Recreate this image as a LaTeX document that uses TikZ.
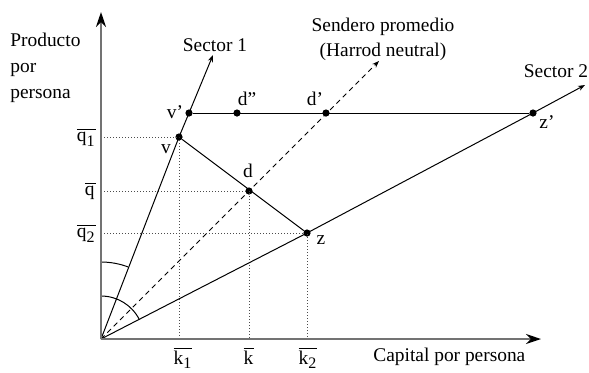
\documentclass[tikz,border=0pt]{standalone}
\usepackage{fontspec}
\setmainfont{Liberation Serif}
\usepackage{tikz}
\usetikzlibrary{calc,arrows.meta,positioning}
\tikzset{
  axs/.style={-{Stealth[length=7.5pt,width=5pt,color=black]},line width=1pt,black!55},
  sar/.style={-{Stealth[length=3.5pt,width=2.6pt]},line width=0.5pt},
  dsh/.style={line width=0.5pt,dash pattern=on 2.5pt off 2pt},
  prj/.style={line width=0.5pt,black!70,dash pattern=on 0.6pt off 0.9pt},
  nd/.style={circle,fill,inner sep=0pt,minimum size=3.6pt},
  lb/.style={inner sep=0pt,font=\fontsize{9.7pt}{11.6pt}\selectfont}
}
\newcommand{\bv}[2]{$\overline{\mbox{#1}_{\mbox{\fontsize{8pt}{9pt}\selectfont #2}}}$}
\begin{document}
\begin{tikzpicture}[x=0.5pt,y=-0.5pt]
\useasboundingbox (0,0) rectangle (589,372);
\coordinate (O) at (101,339);
\coordinate (ytip) at (101,12);
\coordinate (xtip) at (541,339);
\coordinate (s1tip) at (213,55);
\coordinate (s2tip) at (585,85);
\coordinate (htip) at (379,61);
\node[nd] (v) at (179,137) {};
\node[nd] (vp) at (189,113) {};
\node[nd] (dpp) at (237,113) {};
\node[nd] (dp) at (326,113) {};
\node[nd] (zp) at (533,113) {};
\node[nd] (d) at (249,191) {};
\node[nd] (z) at (307,233) {};
% proyecciones
\coordinate (q1) at (O |- v);
\coordinate (q) at (O |- d);
\coordinate (q2) at (O |- z);
\draw[prj] (q1) -- (v.center) -- (v |- O);
\draw[prj] (q) -- (d.center) -- (d |- O);
\draw[prj] (q2) -- (z.center) -- (z |- O);
% rectas
\draw[dsh,-{Stealth[length=3.5pt,width=2.6pt]}] (O) -- (htip);
\draw[sar] (O) -- (v.center) -- (vp.center) -- (s1tip);
\draw[sar] (O) -- (z.center) -- (zp.center) -- (s2tip);
\draw[line width=0.5pt] (vp) -- (zp);
\draw[line width=0.5pt] (v) -- (z);
% angulos
\draw[line width=0.5pt] (101,262) arc[start angle=270,end angle=290.6,radius=77];
\draw[line width=0.5pt] (101,296) arc[start angle=270,end angle=332.9,radius=43];
% ejes
\draw[axs] (O) -- (ytip);
\draw[axs] (O) -- (xtip);
% textos
\node[lb,anchor=east] (lq1) at (96,137) {\bv{q}{1}};
\node[lb,anchor=east] (lq) at (96,191) {\bv{q}{}};
\node[lb,anchor=east] (lq2) at (96,233) {\bv{q}{2}};
\node[lb,anchor=north] (lk1) at (183,347) {\bv{k}{1}};
\node[lb,anchor=north] (lk) at (249,347) {\bv{k}{}};
\node[lb,anchor=north] (lk2) at (308,347) {\bv{k}{2}};
\node[lb] (lv) at (166,149) {v};
\node[lb] (lvp) at (175,112) {v'};
\node[lb] (ldpp) at (247,99) {d''};
\node[lb] (ldp) at (315,99) {d'};
\node[lb] (ld) at (248,171) {d};
\node[lb] (lz) at (321,240) {z};
\node[lb] (lzp) at (547,122) {z'};
\node[lb] (s1) at (215,45) {Sector 1};
\node[lb] (s2) at (556,71) {Sector 2};
\node[lb,align=center] (hn) at (383,39) {Sendero promedio\\[1pt](Harrod neutral)};
\node[lb,anchor=west] (cap) at (373,357) {Capital por persona};
\node[lb,anchor=north west,align=left] (prod) at (10,33) {Producto\\[1.3pt]por\\[1.3pt]persona};
\end{tikzpicture}
\end{document}
